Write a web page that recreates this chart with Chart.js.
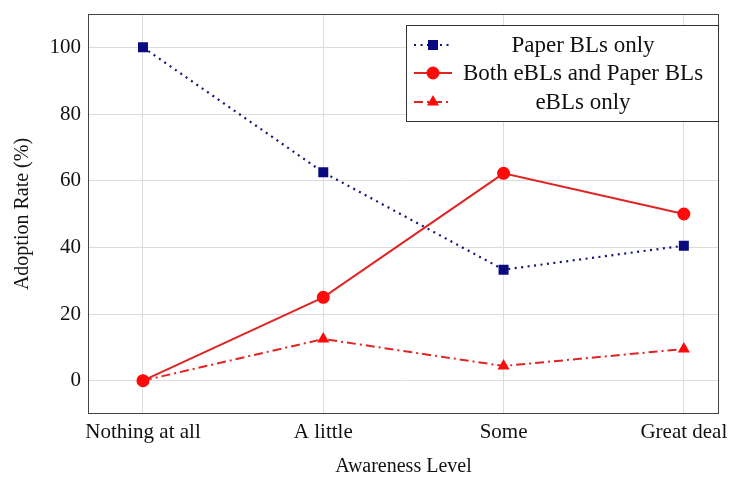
<!DOCTYPE html>
<html>
<head>
<meta charset="utf-8">
<script src="https://cdn.jsdelivr.net/npm/chart.js@4/dist/chart.umd.min.js"></script>
<style>
  html, body { margin: 0; padding: 0; background: #fff; }
  #wrap { width: 729px; height: 477px; }
</style>
</head>
<body>
<div id="wrap"><canvas id="myChart" width="729" height="477"></canvas></div>
<script>
// values
const categories = ["Nothing at all", "A little", "Some", "Great deal"];
const paperOnly = [100, 62.5, 33.3, 40.5];
const bothTypes = [0, 25, 62.2, 50];
const eblOnly = [0, 12.5, 4.4, 9.5];
const yTicks = [0, 20, 40, 60, 80, 100];

const serif = "'Liberation Serif', 'DejaVu Serif', serif";

function points(values){
    return values.map((v, i) => ({x: i, y: v}));
}

// draws the frame round the plot and the boxed legend at top right
const framePlugin = {
    id: 'frame',
    afterDraw(chart){
        const ctx = chart.ctx;
        const a = chart.chartArea;
        ctx.save();
        ctx.strokeStyle = '#444';
        ctx.lineWidth = 1;
        ctx.strokeRect(a.left + 0.5, a.top + 0.5, a.right - a.left - 1, a.bottom - a.top - 1);

        // legend
        const bx = 406, by = 25, bw = 312, bh = 96;
        ctx.fillStyle = '#fff';
        ctx.fillRect(bx, by, bw, bh);
        ctx.strokeStyle = '#333';
        ctx.strokeRect(bx + 0.5, by + 0.5, bw, bh);
        const rows = [45, 73, 102];
        chart.data.datasets.forEach((ds, i) => {
            const y = rows[i];
            ctx.save();
            ctx.strokeStyle = ds.borderColor;
            ctx.lineWidth = ds.borderWidth;
            ctx.setLineDash(ds.borderDash || []);
            ctx.beginPath();
            ctx.moveTo(414, y);
            ctx.lineTo(452, y);
            ctx.stroke();
            ctx.setLineDash([]);
            ctx.fillStyle = ds.pointBackgroundColor;
            ctx.strokeStyle = ds.pointBorderColor;
            Chart.helpers.drawPoint(ctx, {
                pointStyle: ds.pointStyle,
                radius: ds.pointRadius,
                rotation: 0,
                borderWidth: 1
            }, 433, y);
            ctx.restore();
            ctx.fillStyle = '#111';
            ctx.font = '23px ' + serif;
            ctx.textAlign = 'center';
            ctx.textBaseline = 'middle';
            ctx.fillText(ds.label, 583, y + 1);
        });
        ctx.restore();
    }
};

var mychart = document.getElementById('myChart').getContext('2d');
var result = new Chart(mychart, {
    type: 'line',
    data: {
        datasets: [{
            label: 'Paper BLs only',
            data: points(paperOnly),
            borderColor: '#14147a',
            borderWidth: 2.2,
            borderDash: [2, 4.5],
            pointStyle: 'rect',
            pointRadius: 5.5,
            pointBackgroundColor: '#0a0a80',
            pointBorderColor: '#0a0a80'
        }, {
            label: 'Both eBLs and Paper BLs',
            data: points(bothTypes),
            borderColor: '#e02424',
            borderWidth: 2,
            pointStyle: 'circle',
            pointRadius: 5.5,
            pointBackgroundColor: '#ff0a0a',
            pointBorderColor: '#ff0a0a'
        }, {
            label: 'eBLs only',
            data: points(eblOnly),
            borderColor: '#e02424',
            borderWidth: 2,
            borderDash: [9, 4, 2, 4],
            pointStyle: 'triangle',
            pointRadius: 5,
            pointBackgroundColor: '#ff0a0a',
            pointBorderColor: '#ff0a0a'
        }]
    },
    options: {
        responsive: false,
        animation: false,
        layout: { padding: { top: 14, right: 10, left: 0, bottom: 0 } },
        plugins: {
            legend: { display: false },
            tooltip: { enabled: false }
        },
        scales: {
            x: {
                type: 'linear',
                min: -0.305,
                max: 3.195,
                afterBuildTicks: s => { s.ticks = categories.map((c, i) => ({value: i})); },
                afterFit: s => { s.height = 63; s.paddingLeft = 0; s.paddingRight = 0; },
                grid: { color: '#dcdcdc', drawTicks: false },
                border: { display: false },
                ticks: {
                    padding: 6,
                    color: '#111',
                    font: { family: serif, size: 21 },
                    callback: v => categories[v]
                },
                title: {
                    display: true,
                    text: 'Awareness Level',
                    color: '#111',
                    font: { family: serif, size: 20 },
                    padding: { top: 0, bottom: -2 }
                }
            },
            y: {
                min: -10,
                max: 110,
                afterBuildTicks: s => { s.ticks = yTicks.map(v => ({value: v})); },
                afterFit: s => { s.width = 88; s.paddingTop = 0; s.paddingBottom = 0; },
                grid: { color: '#dcdcdc', drawTicks: false },
                border: { display: false },
                ticks: {
                    padding: 7,
                    color: '#111',
                    font: { family: serif, size: 21 }
                },
                title: {
                    display: true,
                    text: 'Adoption Rate (%)',
                    color: '#111',
                    font: { family: serif, size: 20 },
                    padding: { top: 11, bottom: 0 }
                }
            }
        }
    },
    plugins: [framePlugin]
});
</script>
</body>
</html>
